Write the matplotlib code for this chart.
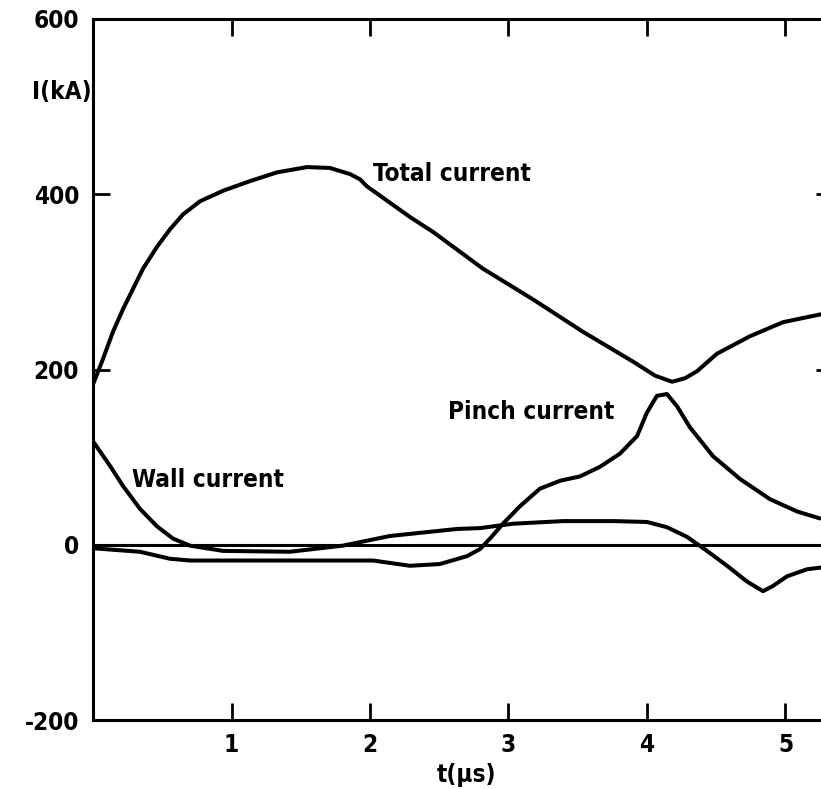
import matplotlib

matplotlib.use("Agg")
import matplotlib.pyplot as plt

# currents in kA against time in microseconds
t_total = [0.0, 0.072, 0.144, 0.217, 0.289, 0.361, 0.462, 0.556, 0.650, 0.773,
           0.939, 1.134, 1.329, 1.545, 1.711, 1.856, 1.928, 1.978, 2.289, 2.455,
           2.816, 3.177, 3.538, 3.899, 4.058, 4.181, 4.274, 4.361, 4.505, 4.744,
           4.982, 5.256]
i_total = [183, 212, 243, 269, 292, 315, 340, 360, 377, 392,
           404, 415, 425, 431, 430, 423, 417, 409, 374, 357,
           315, 280, 243, 209, 193, 186, 190, 198, 218, 238,
           254, 263]

t_wall = [0.0, 0.123, 0.217, 0.339, 0.462, 0.578, 0.700, 0.939, 1.422, 1.805,
          2.144, 2.628, 2.794, 3.032, 3.394, 3.755, 4.000, 4.144, 4.289, 4.433,
          4.578, 4.722, 4.838, 4.910, 5.011, 5.155, 5.256]
i_wall = [118, 90, 67, 41, 21, 7, -1, -7, -8, -1,
          10, 18, 19, 24, 27, 27, 26, 20, 9, -7,
          -24, -42, -53, -47, -36, -28, -26]

t_pinch = [0.0, 0.339, 0.556, 0.700, 1.661, 2.022, 2.289, 2.505, 2.700, 2.794,
           2.866, 2.960, 3.083, 3.227, 3.372, 3.516, 3.661, 3.805, 3.928, 4.000,
           4.072, 4.144, 4.217, 4.310, 4.477, 4.672, 4.888, 5.083, 5.249]
i_pinch = [-4, -8, -16, -18, -18, -18, -24, -22, -13, -5,
           7, 24, 44, 64, 73, 78, 89, 104, 124, 151,
           170, 172, 158, 134, 101, 75, 52, 38, 30]

x_ticks = [1, 2, 3, 4, 5]
x_labels = ["1", "2", "3", "4", "5"]
y_ticks = [-200, 0, 200, 400, 600]
y_labels = ["-200", "0", "200", "400", "600"]

W, H = 821, 789
fig = plt.figure(figsize=(W / 100, H / 100), dpi=100)
ax = fig.add_axes([93 / W, (H - 720) / H, 740 / W, 701 / H])

font = dict(family="DejaVu Sans", weight="bold", stretch="condensed")

lw = 2.9
for t, i in [(t_total, i_total), (t_wall, i_wall), (t_pinch, i_pinch)]:
    ax.plot(t, i, color="black", lw=lw, solid_joinstyle="round",
            solid_capstyle="round")
ax.axhline(0, color="black", lw=2.2)

ax.set_xlim(0, 740 / 138.5)
ax.set_ylim(-200, 600)

ax.set_xticks(x_ticks)
ax.set_xticklabels(x_labels, **font, fontsize=17.5)
ax.set_yticks(y_ticks)
ax.set_yticklabels(y_labels, **font, fontsize=17.5)
ax.tick_params(axis="both", direction="in", length=12, width=2.0,
               top=True, right=True, color="black")
ax.tick_params(axis="x", pad=9)
ax.tick_params(axis="y", pad=10)
for spine in ax.spines.values():
    spine.set_linewidth(2.2)

ax.text(2.022, 423, "Total current", fontsize=17.5, va="center", ha="left", **font)
ax.text(2.563, 151, "Pinch current", fontsize=17.5, va="center", ha="left", **font)
ax.text(0.282, 74, "Wall current", fontsize=17.5, va="center", ha="left", **font)

fig.text(62 / W, 1 - 92 / H, "I(kA)", fontsize=17.5, ha="center", va="center", **font)
fig.text(466 / W, 1 - 775 / H, "t(µs)", fontsize=17.5, ha="center", va="center", **font)

fig.savefig("out.png", dpi=100, facecolor="white")
